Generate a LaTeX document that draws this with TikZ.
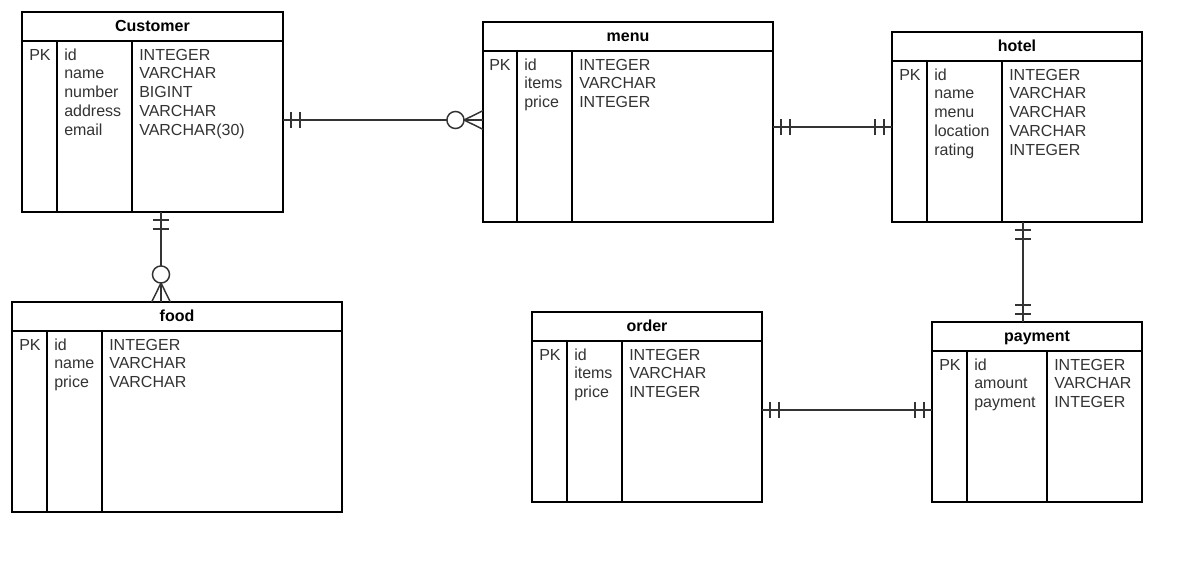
\documentclass[tikz,border=0pt]{standalone}
\usepackage{fontspec}
\setmainfont{Liberation Sans}
\usetikzlibrary{calc, decorations.markings}
\definecolor{erLine}{HTML}{333333}
\definecolor{erText}{HTML}{333333}

\begin{document}
\begin{tikzpicture}[x=0.75pt, y=-0.75pt,
  entity/.style={draw, line width=1pt, anchor=north west, inner sep=0pt,
                 outer sep=0pt},
  rule/.style={line width=1pt},
  title/.style={anchor=base, inner sep=0pt,
                font=\fontsize{12pt}{14pt}\selectfont\bfseries},
  field/.style={anchor=base west, inner sep=0pt, text=erText,
                font=\fontsize{12pt}{14pt}\selectfont},
  rel/.style={draw=erLine, line width=1.1pt},
  bar/.style={draw=erLine, line width=1.6pt},
  onefrom/.style={postaction={decorate, decoration={markings,
      mark=at position 6pt with {\draw[bar] (0,-6pt) -- (0,6pt);},
      mark=at position 12.75pt with {\draw[bar] (0,-6pt) -- (0,6pt);}}}},
  oneto/.style={postaction={decorate, decoration={markings,
      mark=at position -12.75pt with {\draw[bar] (0,-6pt) -- (0,6pt);},
      mark=at position -6pt with {\draw[bar] (0,-6pt) -- (0,6pt);}}}},
  manyto/.style={postaction={decorate, decoration={markings,
      mark=at position -14.25pt with {
        \draw[rel] (0,0) -- (14.25pt,7pt) (0,0) -- (14.25pt,-7pt);
        \draw[rel, fill=white] (-6.4pt,0) circle (6.4pt);}}}}]
  \fill[white] (0,0) rectangle (1192,562);
  \useasboundingbox (0,0) rectangle (1192,562);

  % Customer
  \node[entity, minimum width=195.75pt, minimum height=150pt] (cust) at (22,12) {};
  \draw[rule] ($(cust.north west)+(0,29)$) -- ($(cust.north east)+(0,29)$);
  \draw[rule] ($(cust.north west)+(35,29)$) -- ($(cust.south west)+(35,0)$);
  \draw[rule] ($(cust.north west)+(110,29)$) -- ($(cust.south west)+(110,0)$);
  \node[title] (cust-h) at ($(cust.north)+(0,19)$) {Customer};
  \node[field] (cust-pk) at ($(cust.north west)+(7,48)$) {PK};
  \foreach \f/\t [count=\i from 0] in {id/INTEGER, name/VARCHAR,
      number/BIGINT, address/VARCHAR, email/VARCHAR(30)} {
    \node[field] (cust-f\i) at ($(cust.north west)+(42,{48+18.75*\i})$) {\f};
    \node[field] (cust-t\i) at ($(cust.north west)+(117,{48+18.75*\i})$) {\t};
  }

  % menu
  \node[entity, minimum width=217.5pt, minimum height=150pt] (menu) at (483,22) {};
  \draw[rule] ($(menu.north west)+(0,29)$) -- ($(menu.north east)+(0,29)$);
  \draw[rule] ($(menu.north west)+(34,29)$) -- ($(menu.south west)+(34,0)$);
  \draw[rule] ($(menu.north west)+(89,29)$) -- ($(menu.south west)+(89,0)$);
  \node[title] (menu-h) at ($(menu.north)+(0,19)$) {menu};
  \node[field] (menu-pk) at ($(menu.north west)+(6,48)$) {PK};
  \foreach \f/\t [count=\i from 0] in {id/INTEGER, items/VARCHAR,
      price/INTEGER} {
    \node[field] (menu-f\i) at ($(menu.north west)+(41,{48+18.75*\i})$) {\f};
    \node[field] (menu-t\i) at ($(menu.north west)+(96,{48+18.75*\i})$) {\t};
  }

  % hotel
  \node[entity, minimum width=187.5pt, minimum height=142.5pt] (hotel) at (892,32) {};
  \draw[rule] ($(hotel.north west)+(0,29)$) -- ($(hotel.north east)+(0,29)$);
  \draw[rule] ($(hotel.north west)+(35,29)$) -- ($(hotel.south west)+(35,0)$);
  \draw[rule] ($(hotel.north west)+(110,29)$) -- ($(hotel.south west)+(110,0)$);
  \node[title] (hotel-h) at ($(hotel.north)+(0,19)$) {hotel};
  \node[field] (hotel-pk) at ($(hotel.north west)+(7,48)$) {PK};
  \foreach \f/\t [count=\i from 0] in {id/INTEGER, name/VARCHAR,
      menu/VARCHAR, location/VARCHAR, rating/INTEGER} {
    \node[field] (hotel-f\i) at ($(hotel.north west)+(42,{48+18.75*\i})$) {\f};
    \node[field] (hotel-t\i) at ($(hotel.north west)+(117,{48+18.75*\i})$) {\t};
  }

  % food
  \node[entity, minimum width=247.5pt, minimum height=157.5pt] (food) at (12,302) {};
  \draw[rule] ($(food.north west)+(0,29)$) -- ($(food.north east)+(0,29)$);
  \draw[rule] ($(food.north west)+(35,29)$) -- ($(food.south west)+(35,0)$);
  \draw[rule] ($(food.north west)+(90,29)$) -- ($(food.south west)+(90,0)$);
  \node[title] (food-h) at ($(food.north)+(0,19)$) {food};
  \node[field] (food-pk) at ($(food.north west)+(7,48)$) {PK};
  \foreach \f/\t [count=\i from 0] in {id/INTEGER, name/VARCHAR,
      price/VARCHAR} {
    \node[field] (food-f\i) at ($(food.north west)+(42,{48+18.75*\i})$) {\f};
    \node[field] (food-t\i) at ($(food.north west)+(97,{48+18.75*\i})$) {\t};
  }

  % order
  \node[entity, minimum width=172.5pt, minimum height=142.5pt] (order) at (532,312) {};
  \draw[rule] ($(order.north west)+(0,29)$) -- ($(order.north east)+(0,29)$);
  \draw[rule] ($(order.north west)+(35,29)$) -- ($(order.south west)+(35,0)$);
  \draw[rule] ($(order.north west)+(90,29)$) -- ($(order.south west)+(90,0)$);
  \node[title] (order-h) at ($(order.north)+(0,19)$) {order};
  \node[field] (order-pk) at ($(order.north west)+(7,48)$) {PK};
  \foreach \f/\t [count=\i from 0] in {id/INTEGER, items/VARCHAR,
      price/INTEGER} {
    \node[field] (order-f\i) at ($(order.north west)+(42,{48+18.75*\i})$) {\f};
    \node[field] (order-t\i) at ($(order.north west)+(97,{48+18.75*\i})$) {\t};
  }

  % payment
  \node[entity, minimum width=157.5pt, minimum height=135pt] (payment) at (932,322) {};
  \draw[rule] ($(payment.north west)+(0,29)$) -- ($(payment.north east)+(0,29)$);
  \draw[rule] ($(payment.north west)+(35,29)$) -- ($(payment.south west)+(35,0)$);
  \draw[rule] ($(payment.north west)+(115,29)$) -- ($(payment.south west)+(115,0)$);
  \node[title] (payment-h) at ($(payment.north)+(0,19)$) {payment};
  \node[field] (payment-pk) at ($(payment.north west)+(7,48)$) {PK};
  \foreach \f/\t [count=\i from 0] in {id/INTEGER, amount/VARCHAR,
      payment/INTEGER} {
    \node[field] (payment-f\i) at ($(payment.north west)+(42,{48+18.75*\i})$) {\f};
    \node[field] (payment-t\i) at ($(payment.north west)+(122,{48+18.75*\i})$) {\t};
  }

  % relationships
  \draw[rel, onefrom, manyto] ($(cust.east)+(0,8)$) -- ($(menu.west)+(0,-2)$);
  \draw[rel, onefrom, manyto] ($(cust.south)+(8.5,0)$) -- ($(food.north)+(-16,0)$);
  \draw[rel, onefrom, oneto] ($(menu.east)+(0,5)$) -- (hotel.west);
  \draw[rel, onefrom, oneto] ($(hotel.south)+(6,0)$) -- ($(payment.north)+(-14,0)$);
  \draw[rel, onefrom, oneto] ($(order.east)+(0,3)$) -- ($(payment.west)+(0,-2)$);
\end{tikzpicture}
\end{document}
